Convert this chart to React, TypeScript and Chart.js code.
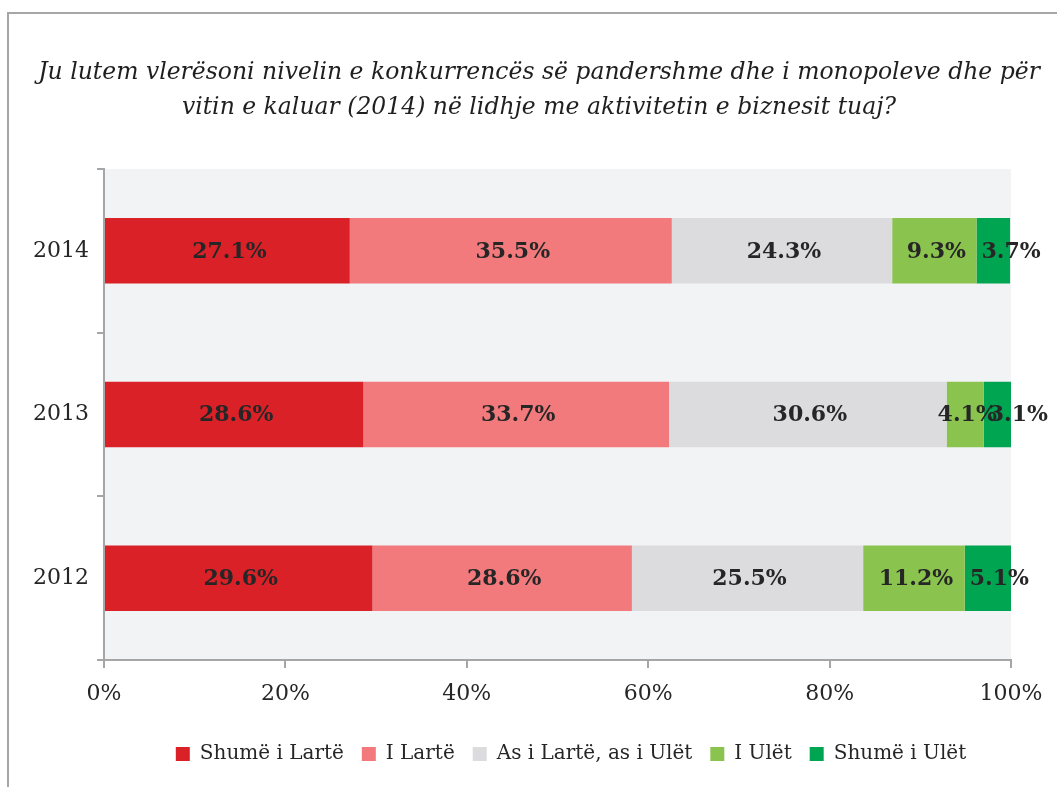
import React, { useEffect, useRef } from "react";
import { Chart, registerables } from "chart.js";

Chart.register(...registerables);

const years = ["2014", "2013", "2012"];
const seriesNames = [
  "Shumë i Lartë",
  "I Lartë",
  "As i Lartë, as i Ulët",
  "I Ulët",
  "Shumë i Ulët",
];
const shumeILarte = [27.1, 28.6, 29.6];
const iLarte = [35.5, 33.7, 28.6];
const asILarteAsIUlet = [24.3, 30.6, 25.5];
const iUlet = [9.3, 4.1, 11.2];
const shumeIUlet = [3.7, 3.1, 5.1];
const seriesColors = ["#da2128", "#f27a7c", "#dcdcde", "#8bc34f", "#00a551"];
const titleLines = [
  "Ju lutem vlerësoni nivelin e konkurrencës së pandershme dhe i monopoleve dhe për",
  "vitin e kaluar (2014) në lidhje me aktivitetin e biznesit tuaj?",
];

const SERIF = '"DejaVu Serif", "Liberation Serif", serif';

export default function App() {
  const ref = useRef<HTMLCanvasElement | null>(null);

  useEffect(() => {
    const canvas = ref.current;
    if (!canvas) return;
    const allSeries = [shumeILarte, iLarte, asILarteAsIUlet, iUlet, shumeIUlet];

    const framePlugin = {
      id: "frame",
      afterLayout(chart: any) {
        const lg = chart.legend;
        if (lg) {
          const shift = 571 - (lg.left + lg.right) / 2;
          lg.left += shift;
          lg.right += shift;
        }
      },
      beforeDraw(chart: any) {
        const { ctx, chartArea } = chart;
        ctx.save();
        ctx.fillStyle = "#ffffff";
        ctx.fillRect(0, 0, chart.width, chart.height);
        ctx.strokeStyle = "#a6a6a6";
        ctx.lineWidth = 2;
        ctx.beginPath();
        ctx.moveTo(8, chart.height);
        ctx.lineTo(8, 13);
        ctx.lineTo(chart.width, 13);
        ctx.stroke();
        ctx.fillStyle = "#f2f3f5";
        ctx.fillRect(
          chartArea.left,
          chartArea.top,
          chartArea.right - chartArea.left,
          chartArea.bottom - chartArea.top
        );
        ctx.fillStyle = "#1f1f1f";
        ctx.font = "italic 23.5px " + SERIF;
        ctx.textAlign = "center";
        ctx.textBaseline = "alphabetic";
        ctx.fillText(titleLines[0], 539, 79);
        ctx.fillText(titleLines[1], 539, 114);
        ctx.restore();
      },
    };

    const labelPlugin = {
      id: "barLabels",
      afterDatasetsDraw(chart: any) {
        const { ctx } = chart;
        const lastIndex = chart.data.datasets.length - 1;
        ctx.save();
        ctx.font = "bold 22px " + SERIF;
        ctx.fillStyle = "#262626";
        ctx.textBaseline = "middle";
        chart.data.datasets.forEach((ds: any, di: number) => {
          const meta = chart.getDatasetMeta(di);
          meta.data.forEach((el: any, i: number) => {
            const p = el.getProps(["x", "y", "base"], true);
            const text = ds.data[i].toFixed(1) + "%";
            const tw = ctx.measureText(text).width;
            const segW = Math.abs(p.x - p.base);
            if (di === lastIndex && tw > segW) {
              ctx.textAlign = "left";
              ctx.fillText(text, Math.min(p.x, p.base) + 5, p.y + 1);
            } else {
              ctx.textAlign = "center";
              ctx.fillText(text, (p.x + p.base) / 2 + 2, p.y + 1);
            }
          });
        });
        ctx.restore();
      },
    };

    const chart = new Chart(canvas, {
      type: "bar",
      data: {
        labels: years,
        datasets: seriesNames.map((name, i) => ({
          label: name,
          data: allSeries[i],
          backgroundColor: seriesColors[i],
          borderWidth: 0,
          barPercentage: 0.4,
          categoryPercentage: 1,
        })),
      },
      options: {
        indexAxis: "y",
        responsive: false,
        animation: false,
        layout: { padding: { left: 8, right: 0, top: 169, bottom: 13 } },
        scales: {
          x: {
            stacked: true,
            min: 0,
            max: 100,
            ticks: {
              stepSize: 20,
              callback: (v: any) => v + "%",
              color: "#262626",
              font: { family: SERIF, size: 22 },
              padding: 13,
              maxRotation: 0,
            },
            grid: {
              drawOnChartArea: false,
              drawTicks: true,
              tickLength: 8,
              color: "#a6a6a6",
              lineWidth: 2,
            },
            border: { display: true, color: "#a6a6a6", width: 2 },
            afterFit(scale: any) {
              scale.height = 66;
              scale.paddingRight = 46;
              scale.paddingLeft = 0;
            },
          },
          y: {
            stacked: true,
            ticks: {
              color: "#262626",
              font: { family: SERIF, size: 22 },
              padding: 8,
            },
            grid: {
              drawOnChartArea: false,
              drawTicks: true,
              tickLength: 7,
              offset: true,
              color: "#a6a6a6",
              lineWidth: 2,
            },
            border: { display: true, color: "#a6a6a6", width: 2 },
            afterFit(scale: any) {
              scale.width = 96;
            },
          },
        },
        plugins: {
          title: { display: false },
          tooltip: { enabled: false },
          legend: {
            position: "bottom",
            labels: {
              boxWidth: 14,
              boxHeight: 14,
              padding: 18,
              color: "#262626",
              font: { family: SERIF, size: 20 },
            },
          },
        },
      },
      plugins: [framePlugin, labelPlugin],
    });

    return () => chart.destroy();
  }, []);

  return (
    <div style={{ position: "absolute", left: 0, top: 0, width: 1057, height: 787 }}>
      <canvas ref={ref} width={1057} height={787} style={{ display: "block", width: 1057, height: 787 }} />
    </div>
  );
}
